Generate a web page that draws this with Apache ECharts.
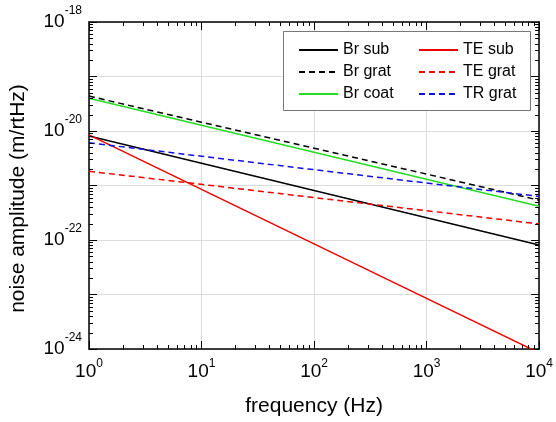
<!DOCTYPE html>
<html>
<head>
<meta charset="utf-8">
<script src="https://cdn.jsdelivr.net/npm/echarts@6/dist/echarts.min.js"></script>
<style>
  html, body { margin: 0; padding: 0; background: #fff; }
  #chart { width: 556px; height: 422px; }
</style>
</head>
<body>
<div id="chart"></div>
<script>
const freq = [1, 10, 100, 1000, 10000];

// noise amplitude (m/rtHz)
const brSub = [8.1e-21, 2.57e-21, 8.1e-22, 2.57e-22, 8.1e-23];
const brGrat = [4.37e-20, 1.45e-20, 4.84e-21, 1.62e-21, 5.37e-22];
const brCoat = [3.98e-20, 1.27e-20, 4.07e-21, 1.30e-21, 4.17e-22];
const teSub = [8.5e-21, 8.5e-22, 8.5e-23, 8.5e-24, 8.5e-25];
const teGrat = [1.82e-21, 1.05e-21, 6.0e-22, 3.45e-22, 1.97e-22];
const trGrat = [6.07e-21, 3.44e-21, 1.95e-21, 1.11e-21, 6.3e-22];

// exponents that get a tick label
const xLabelExps = [0, 1, 2, 3, 4];
const yLabelExps = [-18, -20, -22, -24];

// the log scale rounds away values this small, so the y axis runs in units of 1e-24
const Y_EXP = -24;
const Y_UNIT = Math.pow(10, Y_EXP);

const FONT = '"Liberation Sans", Arial, sans-serif';

/**
 * one curve
 */
function line(name, data, color, dashed) {
  return {
    name,
    type: 'line',
    data: freq.map((f, i) => [f, data[i] / Y_UNIT]),
    symbol: 'none',
    silent: true,
    clip: true,
    itemStyle: { color },
    lineStyle: { color, width: 1.5, type: dashed ? [6, 4] : 'solid' },
  };
}

function expOf(v) {
  return Math.round(Math.log10(v));
}

const axisLine = { lineStyle: { color: '#000', width: 1.5 } };
const majorTick = { inside: true, length: 8, lineStyle: { color: '#000', width: 1 } };
const gridLine = { show: true, lineStyle: { color: '#dcdcdc', width: 1 } };
const legendText = { fontSize: 16, color: '#000', lineHeight: 14, fontFamily: FONT };

function setOption(chart) {
  const option = {
    animation: false,
    textStyle: { fontFamily: FONT },
    grid: { left: 89, right: 15, top: 22, bottom: 68 },
    xAxis: [
      {
        type: 'log', logBase: 10, min: 1, max: 1e4, position: 'bottom',
        name: 'frequency (Hz)', nameLocation: 'middle', nameGap: 47,
        nameTextStyle: { fontSize: 21, color: '#000', fontFamily: FONT },
        axisLine, axisTick: majorTick, splitLine: gridLine,
        axisLabel: {
          margin: 9,
          formatter: (v) => {
            const e = expOf(v);
            return xLabelExps.includes(e) ? `{b|10}{s|${e}}` : '';
          },
          rich: {
            b: { fontSize: 19, color: '#000', fontFamily: FONT },
            s: { fontSize: 12, color: '#000', fontFamily: FONT, padding: [0, 0, 15, 0] },
          },
        },
      },
      {
        type: 'log', logBase: 10, min: 1, max: 1e4, position: 'top',
        axisLine, axisTick: majorTick, axisLabel: { show: false }, splitLine: { show: false },
      },
    ],
    yAxis: [
      {
        type: 'log', logBase: 10, min: 1, max: 1e6, splitNumber: 6, position: 'left',
        name: 'noise amplitude (m/rtHz)', nameLocation: 'middle', nameGap: 60,
        nameTextStyle: { fontSize: 21, color: '#000', fontFamily: FONT, padding: [0, 26, 0, 0] },
        axisLine, axisTick: majorTick, splitLine: gridLine,
        axisLabel: {
          margin: 7,
          formatter: (v) => {
            const e = expOf(v) + Y_EXP;
            return yLabelExps.includes(e) ? `{b|10}{s|${e}}` : '';
          },
          rich: {
            b: { fontSize: 19, color: '#000', fontFamily: FONT },
            s: { fontSize: 12, color: '#000', fontFamily: FONT, padding: [0, 0, 22, 0] },
          },
        },
      },
      {
        type: 'log', logBase: 10, min: 1, max: 1e6, splitNumber: 6, position: 'right',
        axisLine, axisTick: majorTick, axisLabel: { show: false }, splitLine: { show: false },
      },
    ],
    legend: [
      {
        data: ['Br sub', 'Br grat', 'Br coat'],
        orient: 'vertical', left: 298, top: 42, padding: 0, z: 5,
        itemWidth: 39, itemHeight: 14, itemGap: 6,
        itemStyle: { opacity: 0 },
        textStyle: legendText,
      },
      {
        data: ['TE sub', 'TE grat', 'TR grat'],
        orient: 'vertical', left: 418, top: 42, padding: 0, z: 5,
        itemWidth: 39, itemHeight: 14, itemGap: 6,
        itemStyle: { opacity: 0 },
        textStyle: legendText,
      },
    ],
    series: [
      line('Br sub', brSub, '#000000', false),
      line('Br grat', brGrat, '#000000', true),
      line('Br coat', brCoat, '#22dd22', false),
      line('TE sub', teSub, '#ee0000', false),
      line('TE grat', teGrat, '#ee0000', true),
      line('TR grat', trGrat, '#1010e0', true),
    ],
  };
  chart.setOption(option);
}

/**
 * legend box and the log minor ticks on all four sides
 */
function setGraphics(chart) {
  const px = (v) => chart.convertToPixel({ xAxisIndex: 0 }, v);
  const py = (v) => chart.convertToPixel({ yAxisIndex: 0 }, v);
  const left = px(1);
  const right = px(1e4);
  const top = py(1e6);
  const bottom = py(1);
  const tickStyle = { stroke: '#000', lineWidth: 1 };
  const els = [
    {
      type: 'rect', z: 3, silent: true,
      shape: { x: 283.5, y: 31.5, width: 247, height: 79 },
      style: { fill: '#fff', stroke: '#777', lineWidth: 1 },
    },
  ];
  for (let d = 0; d < 4; d++) {
    for (let k = 2; k <= 9; k++) {
      const x = Math.round(px(k * Math.pow(10, d))) + 0.5;
      els.push({ type: 'line', silent: true, z: 4, shape: { x1: x, y1: bottom, x2: x, y2: bottom - 4 }, style: tickStyle });
      els.push({ type: 'line', silent: true, z: 4, shape: { x1: x, y1: top, x2: x, y2: top + 4 }, style: tickStyle });
    }
  }
  for (let d = 0; d < 6; d++) {
    for (let k = 2; k <= 9; k++) {
      const y = Math.round(py(k * Math.pow(10, d))) + 0.5;
      els.push({ type: 'line', silent: true, z: 4, shape: { x1: left, y1: y, x2: left + 4, y2: y }, style: tickStyle });
      els.push({ type: 'line', silent: true, z: 4, shape: { x1: right, y1: y, x2: right - 4, y2: y }, style: tickStyle });
    }
  }
  chart.setOption({ graphic: { elements: els } });
}

const chart = echarts.init(document.getElementById('chart'), null, { renderer: 'canvas' });
setOption(chart);
setGraphics(chart);
</script>
</body>
</html>
